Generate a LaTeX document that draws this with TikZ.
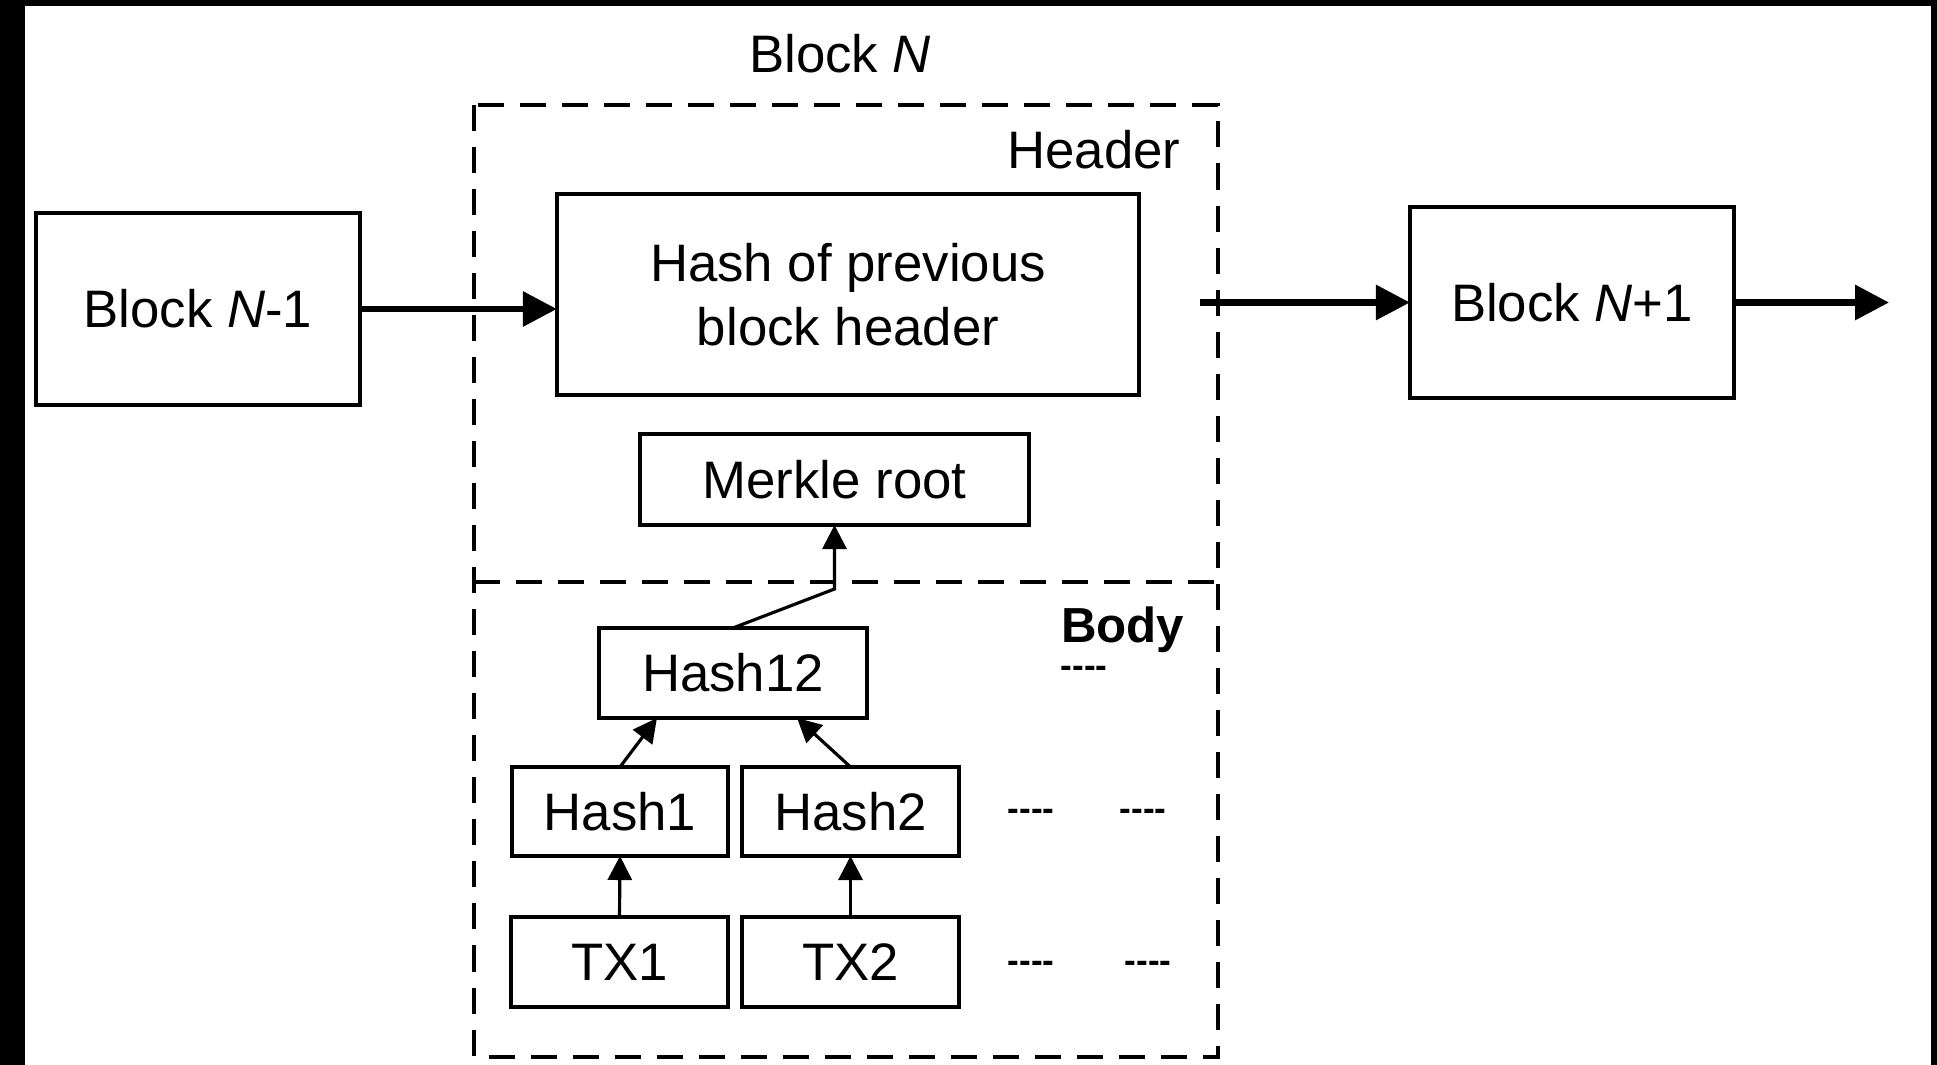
\documentclass[tikz,border=0pt]{standalone}
\usepackage{fontspec}
\setmainfont{Liberation Sans}
\usetikzlibrary{arrows.meta}

\begin{document}
\begin{tikzpicture}[x=0.01cm, y=-0.01cm,
    font=\fontsize{15}{18.2}\selectfont,
    chainbox/.style={draw, line width=1pt, outer sep=0, inner sep=0, align=center},
    dashline/.style={line width=1pt, dash pattern=on 2.6mm off 1.6mm},
    bigarrow/.style={-{Triangle[length=3.4mm, width=3.4mm]}, line width=1.8pt},
    smallarrow/.style={-{Triangle[length=2.4mm, width=2.4mm]}, line width=0.9pt},
    lbl/.style={inner sep=0},
    dots/.style={inner sep=0, font=\fontsize{10}{12}\selectfont\bfseries}]

    % Background
    \fill[black] (0,0) rectangle (1937,1065);
    \fill[white] (25,6) rectangle (1931,1065);

    % Block N-1
    \node[chainbox,
      minimum width=3.24cm,
      minimum height=1.92cm] (blkprev) at (198,309) {Block \textit{N}-1};

    % Block N
    \draw[dashline] (474,105) rectangle (1218,1057);
    \draw[dashline] (474,582) -- (1218,582);
    \node[lbl] (blkname) at (840,54) {Block \textit{N}};
    \node[lbl, anchor=east] (hdrname) at (1181,150) {Header};
    \node[lbl, anchor=base east, font=\fontsize{14}{17}\selectfont\bfseries] (bodyname) at (1185,643) {Body};

    % Header
    \node[chainbox,
      minimum width=5.82cm,
      minimum height=2.01cm] (prevhash) at (848,294.5) {Hash of previous\\block header};
    \node[chainbox,
      minimum width=3.89cm,
      minimum height=0.91cm] (merkle) at (834.5,479.5) {Merkle root};

    % Body
    \node[chainbox,
      minimum width=2.68cm,
      minimum height=0.90cm] (hashot) at (733,673) {Hash12};
    \node[chainbox,
      minimum width=2.16cm,
      minimum height=0.89cm] (hashone) at (620,811.5) {Hash1};
    \node[chainbox,
      minimum width=2.17cm,
      minimum height=0.89cm] (hashtwo) at (850.5,811.5) {Hash2};
    \node[chainbox,
      minimum width=2.17cm,
      minimum height=0.90cm] (txone) at (619.5,962) {TX1};
    \node[chainbox,
      minimum width=2.17cm,
      minimum height=0.90cm] (txtwo) at (850.5,962) {TX2};

    % Dots
    \node[dots] (dotsa) at (1084,672) {-{}-{}-{}-};
    \node[dots] (dotsb) at (1031,815) {-{}-{}-{}-};
    \node[dots] (dotsc) at (1143,815) {-{}-{}-{}-};
    \node[dots] (dotsd) at (1031,967) {-{}-{}-{}-};
    \node[dots] (dotse) at (1148,967) {-{}-{}-{}-};

    % Block N+1
    \node[chainbox,
      minimum width=3.24cm,
      minimum height=1.91cm] (blknext) at (1572,302.5) {Block \textit{N}+1};

    % Draw Arrows
    \coordinate (linkin) at (1200,302.5);
    \coordinate (linkout) at (1889,302.5);
    \coordinate (bend) at (835,589);
    \draw[bigarrow] (blkprev.east) -- (blkprev.east -| prevhash.west);
    \draw[bigarrow] (linkin) -- (blknext.west);
    \draw[bigarrow] (blknext.east) -- (linkout);

    \draw[smallarrow] (hashot.north) -- (merkle.south |- bend) -- (merkle.south);
    \draw[smallarrow] (hashone.north) -- ([xshift=-0.76cm]hashot.south);
    \draw[smallarrow] (hashtwo.north) -- ([xshift=0.64cm]hashot.south);
    \draw[smallarrow] (txone.north) -- (hashone.south);
    \draw[smallarrow] (txtwo.north) -- (hashtwo.south);
\end{tikzpicture}
\end{document}
